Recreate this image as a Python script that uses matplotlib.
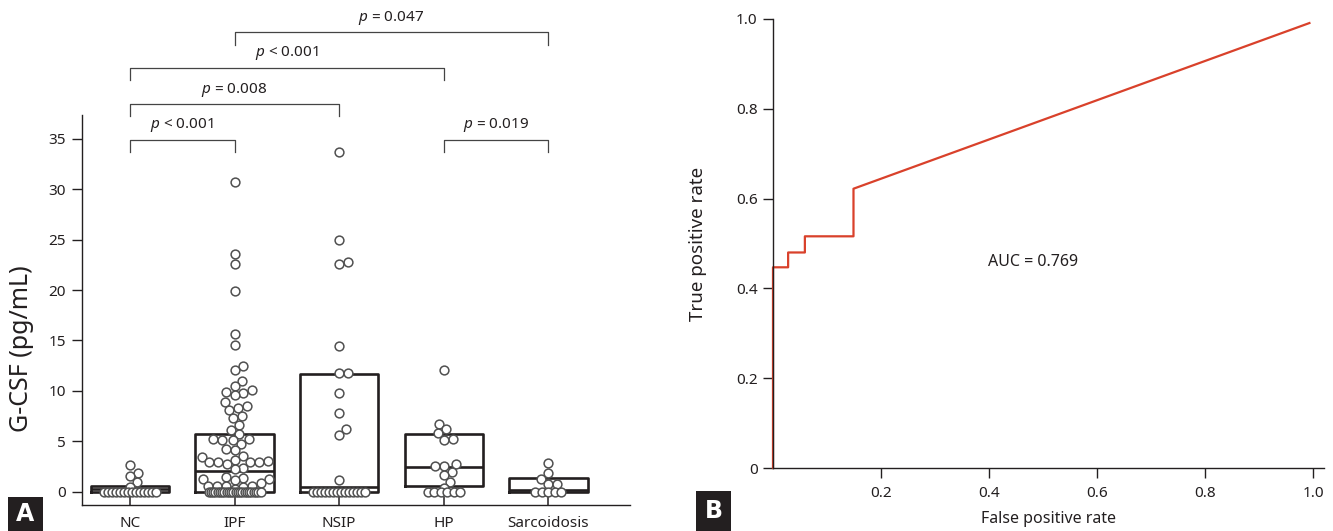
import numpy as np
import matplotlib
matplotlib.use("Agg")
import matplotlib.pyplot as plt
from matplotlib.patches import Rectangle

plt.rcParams['font.family'] = ['Noto Sans', 'DejaVu Sans']
plt.rcParams['mathtext.fontset'] = 'custom'
plt.rcParams['mathtext.it'] = 'Noto Sans:italic'
plt.rcParams['mathtext.rm'] = 'Noto Sans'

# ---- panel A data (G-CSF, pg/mL)
groups = ["NC", "IPF", "NSIP", "HP", "Sarcoidosis"]
nc = [2.7, 1.9, 1.6, 1.0, 0.5] + [0.0] * 14
ipf = [30.7, 23.6, 22.6, 19.9, 15.6, 14.6, 12.5, 12.1, 11.0, 10.5, 10.1,
       9.9, 9.8, 9.6, 8.9, 8.5, 8.3, 8.1, 7.5, 7.3, 6.6, 6.1, 5.7,
       5.2, 5.2, 5.1, 5.1, 4.8, 4.3, 4.2, 3.6, 3.5, 3.2,
       3.1, 3.0, 3.0, 3.0, 3.0, 2.8, 2.4, 2.3,
       1.5, 1.4, 1.3, 1.3, 1.2, 0.9, 0.6, 0.6, 0.6, 0.6, 0.5, 0.3] + [0.0] * 24
nsip = [33.7, 25.0, 22.8, 22.6, 14.5, 11.8, 11.8, 9.8, 7.8, 6.2, 5.6, 1.2] + [0.0] * 14
hp = [12.1, 6.7, 6.2, 5.8, 5.2, 5.1, 2.8, 2.6, 2.6, 2.0, 1.7, 1.0, 0.4] + [0.0] * 6
sarc = [2.9, 1.9, 1.3, 0.8, 0.8] + [0.0] * 5

box_q1 = [0.0, 0.0, 0.0, 0.6, 0.0]
box_med = [0.25, 2.05, 0.5, 2.5, 0.2]
box_q3 = [0.6, 5.75, 11.7, 5.7, 1.4]

comparisons = [(0, 1, "< 0.001"), (0, 2, "= 0.008"), (0, 3, "< 0.001"),
               (1, 4, "= 0.047"), (3, 4, "= 0.019")]
bracket_y = [34.85, 38.4, 42.0, 45.5, 34.85]

# ---- panel B data (ROC)
fpr = [0, 0, 0.028, 0.028, 0.059, 0.059, 0.149, 0.149, 0.993]
tpr = [0, 0.447, 0.447, 0.48, 0.48, 0.516, 0.516, 0.622, 0.991]
auc = 0.769

PX_X = 104.75   # pixels per category step
PX_Y = 10.1     # pixels per pg/mL


def swarm(vals, d=9.0, tie_gap=6.5, tie_max=52):
    # simple beeswarm offsets, worked out in pixels
    vals = np.asarray(vals, float)
    offs = np.zeros(len(vals))
    zero_idx = np.where(vals == 0)[0]
    n0 = len(zero_idx)
    if n0 > 1:
        w = min(tie_gap * (n0 - 1), tie_max)
        offs[zero_idx] = np.linspace(-w / 2, w / 2, n0)
    placed = []
    for i in np.argsort(vals, kind="stable"):
        if vals[i] == 0:
            continue
        y = vals[i] * PX_Y
        cands = [0.0]
        for px, py in placed:
            dy = abs(y - py)
            if dy < d:
                dx = np.sqrt(d * d - dy * dy)
                cands += [px + dx, px - dx]
        cands.sort(key=abs)
        c = cands[-1]
        for c in cands:
            if all((c - px) ** 2 + (y - py) ** 2 >= d * d - 1e-6 for px, py in placed):
                break
        placed.append((c, y))
        offs[i] = c
    return offs / PX_X


fig = plt.figure(figsize=(13.33, 5.31), dpi=100)
ink = '#231f20'

# ================= panel A
ax = fig.add_axes([82 / 1333, 26 / 531, 548 / 1333, 390 / 531])
data = [nc, ipf, nsip, hp, sarc]

stats = []
for i, g in enumerate(groups):
    stats.append(dict(label=g, med=box_med[i], q1=box_q1[i], q3=box_q3[i],
                      whislo=box_q1[i], whishi=box_q3[i]))
ax.bxp(stats, positions=range(len(groups)), widths=0.75, showcaps=False,
       showfliers=False, patch_artist=False,
       boxprops=dict(color=ink, linewidth=1.9),
       medianprops=dict(color=ink, linewidth=1.9),
       whiskerprops=dict(linewidth=0), zorder=2)

for i, vals in enumerate(data):
    x = i + swarm(vals)
    ax.scatter(x, vals, s=40, facecolor='white', edgecolor='#505050',
               linewidth=1.1, zorder=3, clip_on=False)

ax.set_xlim(-0.458, 4.78)
ax.set_ylim(-1.29, 37.33)
ax.set_xticks(range(len(groups)))
ax.set_xticklabels(groups)
ax.set_yticks(range(0, 36, 5))
ax.tick_params(axis='x', direction='in', length=6, width=1.1, pad=8,
               labelsize=11, colors=ink)
ax.tick_params(axis='y', direction='out', length=7, width=1.0, pad=4.5,
               labelsize=11, colors=ink)
for s in ['top', 'right']:
    ax.spines[s].set_visible(False)
for s in ['left', 'bottom']:
    ax.spines[s].set_color(ink)
    ax.spines[s].set_linewidth(1.0)
ax.set_ylabel("G-CSF (pg/mL)", fontsize=18, color=ink)
ax.yaxis.set_label_coords(-0.088, 0.40)

for (a, b, txt), yb in zip(comparisons, bracket_y):
    ax.plot([a, a, b, b], [yb - 1.19, yb, yb, yb - 1.19], color='#444444',
            linewidth=0.9, clip_on=False)
    ax.text((a + b) / 2, yb + 0.55, "$p$ " + txt, ha='center', va='bottom',
            fontsize=11, color=ink, clip_on=False)

# ================= panel B
bx = fig.add_axes([773 / 1333, 63 / 531, 551 / 1333, 449 / 531])
bx.plot(fpr, tpr, color='#d9412b', linewidth=1.6, clip_on=False)
bx.set_xlim(0, 1.02)
bx.set_ylim(0, 1.0)
bx.set_xticks([0.2, 0.4, 0.6, 0.8, 1.0])
bx.set_yticks([0, 0.2, 0.4, 0.6, 0.8, 1.0])
bx.set_yticklabels(["0", "0.2", "0.4", "0.6", "0.8", "1.0"])
bx.tick_params(axis='both', direction='out', length=7, width=1.0,
               labelsize=11, colors=ink)
bx.tick_params(axis='x', pad=6)
bx.tick_params(axis='y', pad=4)
for s in ['top', 'right']:
    bx.spines[s].set_visible(False)
for s in ['left', 'bottom']:
    bx.spines[s].set_color(ink)
    bx.spines[s].set_linewidth(1.0)
bx.set_xlabel("False positive rate", fontsize=11.5, color=ink)
bx.xaxis.set_label_coords(0.5, -0.096)
bx.set_ylabel("True positive rate", fontsize=13.5, color=ink)
bx.yaxis.set_label_coords(-0.12, 0.5)
bx.text(0.398, 0.459, "AUC = %.3f" % auc, ha='left', va='center',
        fontsize=11.5, color=ink)

# panel letters
for lab, x0, y0px in [("A", 8, 497), ("B", 696, 491)]:
    w = 35 / 1333
    h = (531 - y0px) / 531
    fig.patches.append(Rectangle((x0 / 1333, 0), w, h, transform=fig.transFigure,
                                 facecolor='#231f20', edgecolor='none'))
    fig.text(x0 / 1333 + w / 2, h / 2, lab, ha='center', va='center',
             color='white', fontsize=17, fontweight='bold',
             family=['DejaVu Sans'])

fig.savefig("out.png", dpi=100)
